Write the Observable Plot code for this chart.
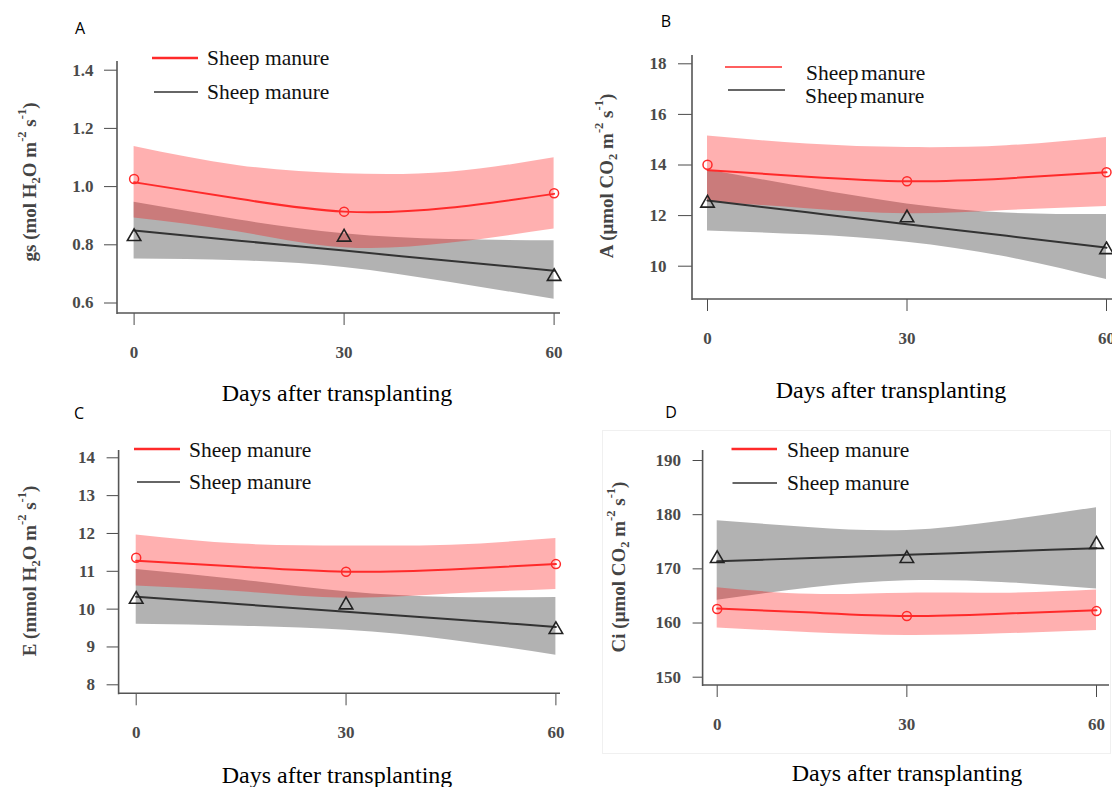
<!DOCTYPE html>
<html><head><meta charset="utf-8">
<script src="https://cdn.jsdelivr.net/npm/d3@7"></script>
<script src="https://cdn.jsdelivr.net/npm/@observablehq/plot@0.6"></script>
<style>
body{margin:0;background:#fff;}
#wrap{position:relative;width:1112px;height:787px;overflow:hidden;background:#fff;font-family:"Liberation Serif","Times New Roman",serif;}
.panel{position:absolute;overflow:hidden;}
.letter{position:absolute;font-family:"Open Sans","Liberation Sans",sans-serif;font-size:16px;color:#000;transform:translate(-50%,-50%);}
.xtitle{position:absolute;font-family:"Liberation Serif",serif;font-size:24px;color:#000;transform:translate(-50%,-50%);white-space:nowrap;}
.faint{position:absolute;border:1px solid #f0f0f0;}
</style></head><body><div id="wrap"></div><script>
// ---------- data ----------
const days = [0, 30, 60];
const bandDays = [0, 15, 30, 45, 60];
const seriesLabels = ["Sheep manure", "Sheep manure"];

// A: gs
const gsRedPts = [1.026, 0.914, 0.977];
const gsGrayPts = [0.828, 0.826, 0.691];
const gsRedFit = [1.015, 0.958, 0.914, 0.927, 0.975];
const gsRedLo = [0.892, 0.844, 0.79, 0.805, 0.854];
const gsRedHi = [1.138, 1.072, 1.044, 1.049, 1.099];
const gsGrayFit = [0.849, 0.814, 0.78, 0.745, 0.711];
const gsGrayLo = [0.751, 0.745, 0.722, 0.671, 0.613];
const gsGrayHi = [0.946, 0.885, 0.838, 0.818, 0.814];
const gsTicks = [0.6, 0.8, 1.0, 1.2, 1.4];

// B: A (photosynthesis)
const aRedPts = [14.01, 13.36, 13.71];
const aGrayPts = [12.49, 11.91, 10.65];
const aRedFit = [13.80, 13.54, 13.36, 13.47, 13.71];
const aRedLo = [12.55, 12.27, 12.07, 12.2, 12.36];
const aRedHi = [15.15, 14.83, 14.69, 14.76, 15.09];
const aGrayFit = [12.6, 12.13, 11.66, 11.2, 10.73];
const aGrayLo = [11.39, 11.24, 10.95, 10.36, 9.47];
const aGrayHi = [13.8, 13.1, 12.46, 12.1, 12.04];
const aTicks = [10, 12, 14, 16, 18];

// C: E
const eRedPts = [11.36, 10.99, 11.19];
const eGrayPts = [10.26, 10.11, 9.46];
const eRedFit = [11.28, 11.12, 10.99, 11.05, 11.19];
const eRedLo = [10.61, 10.46, 10.29, 10.4, 10.52];
const eRedHi = [11.96, 11.72, 11.67, 11.69, 11.87];
const eGrayFit = [10.33, 10.13, 9.93, 9.73, 9.53];
const eGrayLo = [9.6, 9.55, 9.44, 9.18, 8.78];
const eGrayHi = [11.05, 10.77, 10.46, 10.31, 10.31];
const eTicks = [8, 9, 10, 11, 12, 13, 14];

// D: Ci
const ciRedPts = [162.6, 161.3, 162.2];
const ciGrayPts = [171.9, 171.9, 174.5];
const ciRedFit = [162.66, 161.92, 161.3, 161.73, 162.36];
const ciRedLo = [159.1, 158.2, 157.7, 158.0, 158.6];
const ciRedHi = [166.5, 165.3, 165.5, 165.5, 166.1];
const ciGrayFit = [171.4, 172.0, 172.6, 173.2, 173.8];
const ciGrayLo = [164.2, 166.5, 167.8, 167.5, 166.3];
const ciGrayHi = [178.9, 177.6, 177.1, 178.8, 181.3];
const ciTicks = [150, 160, 170, 180, 190];

// ---------- helpers ----------
const pts = (vals) => days.map((d, i) => ({day: d, v: vals[i]}));
const band = (fit, lo, hi) => bandDays.map((d, i) => ({day: d, fit: fit[i], lo: lo[i], hi: hi[i]}));

const RED = "#ff2a2a";
const DARK = "#333333";

function overlay(cfg) {
  return (index, scales, values, dims) => {
    const g = d3.create("svg:g");
    const L = dims.marginLeft, T = dims.marginTop, B = dims.height - dims.marginBottom, R = dims.width - dims.marginRight;
    g.append("line").attr("x1", L).attr("x2", L).attr("y1", T).attr("y2", B + 1).attr("stroke", "#555").attr("stroke-width", 1.6);
    g.append("line").attr("x1", L).attr("x2", R).attr("y1", B).attr("y2", B).attr("stroke", "#555").attr("stroke-width", 1.6);
    // legend
    cfg.legend.forEach((e, i) => {
      g.append("line").attr("x1", e.x1).attr("x2", e.x2).attr("y1", e.y).attr("y2", e.y)
        .attr("stroke", i === 0 ? RED : DARK).attr("stroke-width", e.w);
      g.append("text").attr("x", e.tx).attr("y", e.ty).attr("dominant-baseline", "central")
        .attr("text-anchor", "start").attr("font-weight", "normal")
        .attr("font-family", "Liberation Serif, serif").attr("font-size", cfg.legendSize).attr("fill", "#111")
        .attr("word-spacing", cfg.wordSpacing || 0)
        .text(seriesLabels[i]);
    });
    // y label with sub/superscripts
    const t = g.append("text").attr("transform", `translate(${cfg.ylab.x},${cfg.ylab.y}) rotate(-90)`)
      .attr("text-anchor", "middle").attr("dominant-baseline", "central").attr("font-weight", "bold")
      .attr("font-family", "Liberation Serif, serif").attr("font-size", 19).attr("fill", "#444");
    cfg.ylab.parts.forEach(([s, kind]) => {
      const sp = t.append("tspan").text(s);
      if (kind === "sub") sp.attr("font-size", 12.5).attr("baseline-shift", "sub");
      if (kind === "sup") sp.attr("font-size", 12.5).attr("baseline-shift", "super");
    });
    return g.node();
  };
}

function panel(cfg) {
  const gBand = band(cfg.grayFit, cfg.grayLo, cfg.grayHi);
  const rBand = band(cfg.redFit, cfg.redLo, cfg.redHi);
  return Plot.plot({
    width: cfg.W, height: cfg.H,
    marginLeft: cfg.mL, marginTop: cfg.mT, marginBottom: cfg.mB, marginRight: cfg.mR,
    x: {domain: [0, 60], range: cfg.xr},
    y: {domain: cfg.yd, range: cfg.yr},
    style: {background: "transparent", fontFamily: "Liberation Serif, serif", fontSize: "17px", fontWeight: "bold", color: "#4a4a4a"},
    marks: [
      Plot.areaY(gBand, {x: "day", y1: "lo", y2: "hi", fill: "#000", fillOpacity: 0.3, curve: "natural"}),
      Plot.areaY(rBand, {x: "day", y1: "lo", y2: "hi", fill: "#ff0000", fillOpacity: 0.31, curve: "natural"}),
      Plot.line(gBand, {x: "day", y: "fit", stroke: DARK, strokeWidth: 2, curve: "natural"}),
      Plot.line(rBand, {x: "day", y: "fit", stroke: RED, strokeWidth: 2, curve: "natural"}),
      Plot.dot(pts(cfg.redPts), {x: "day", y: "v", r: 4.5, stroke: RED, fill: "none", strokeWidth: 1.5}),
      Plot.dot(pts(cfg.grayPts), {x: "day", y: "v", symbol: "triangle", r: 5, stroke: "#222", fill: "none", strokeWidth: 1.6}),
      Plot.axisY({ticks: cfg.ticks, tickFormat: cfg.fmt, tickSize: cfg.ytS, tickPadding: cfg.ytP, label: null}),
      Plot.axisX({ticks: days, tickFormat: d3.format("d"), tickSize: 12, tickPadding: 20, label: null}),
      overlay(cfg)
    ]
  });
}

const panels = [
  {left: 0, top: 0, W: 575, H: 400, mL: 117, mT: 61, mB: 87, mR: 15,
   xr: [133.6, 553.6], yd: [0.6, 1.4], yr: [302.5, 69.7], ticks: gsTicks, fmt: d3.format(".1f"), ytS: 13, ytP: 11,
   redPts: gsRedPts, grayPts: gsGrayPts, redFit: gsRedFit, redLo: gsRedLo, redHi: gsRedHi,
   grayFit: gsGrayFit, grayLo: gsGrayLo, grayHi: gsGrayHi, legendSize: 21.5,
   legend: [{x1: 152, x2: 198, y: 58, w: 2.6, tx: 207, ty: 58}, {x1: 154, x2: 198, y: 92, w: 1.5, tx: 207, ty: 92}],
   ylab: {x: 29, y: 182, parts: [["gs (mol H"], ["2", "sub"], ["O m"], ["-2", "sup"], [" s"], ["-1", "sup"], [")"]]},
   letter: "A", lx: 80, ly: 28, tx: 337, ty: 393},
  {left: 560, top: 0, W: 552, H: 400, mL: 132, mT: 55, mB: 101, mR: 0,
   xr: [147, 546], yd: [10, 18], yr: [265.7, 63.3], ticks: aTicks, fmt: d3.format("d"), ytS: 14, ytP: 12,
   redPts: aRedPts, grayPts: aGrayPts, redFit: aRedFit, redLo: aRedLo, redHi: aRedHi,
   grayFit: aGrayFit, grayLo: aGrayLo, grayHi: aGrayHi, legendSize: 21.5, wordSpacing: -3,
   legend: [{x1: 165, x2: 222, y: 67, w: 1.6, tx: 246, ty: 73}, {x1: 168, x2: 225, y: 90, w: 1.4, tx: 245, ty: 96}],
   ylab: {x: 46, y: 176, parts: [["A (μmol CO"], ["2", "sub"], [" m"], ["-2", "sup"], [" s"], ["-1", "sup"], [")"]]},
   letter: "B", lx: 666, ly: 21, tx: 891, ty: 390},
  {left: 0, top: 400, W: 575, H: 387, mL: 118.6, mT: 50, mB: 93.7, mR: 15,
   xr: [135.7, 555.4], yd: [8, 14], yr: [284.3, 57.3], ticks: eTicks, fmt: d3.format("d"), ytS: 12, ytP: 12,
   redPts: eRedPts, grayPts: eGrayPts, redFit: eRedFit, redLo: eRedLo, redHi: eRedHi,
   grayFit: eGrayFit, grayLo: eGrayLo, grayHi: eGrayHi, legendSize: 21.5,
   legend: [{x1: 134, x2: 180, y: 49, w: 2.4, tx: 189, ty: 50}, {x1: 137, x2: 180, y: 82, w: 1.5, tx: 189, ty: 82}],
   ylab: {x: 29, y: 171, parts: [["E (mmol H"], ["2", "sub"], ["O m"], ["-2", "sup"], [" s"], ["-1", "sup"], [")"]]},
   letter: "C", lx: 79, ly: 413, tx: 337, ty: 775},
  {left: 560, top: 400, W: 552, H: 387, mL: 142.6, mT: 50, mB: 102, mR: 3,
   xr: [156.7, 536], yd: [150, 190], yr: [276.7, 60], ticks: ciTicks, fmt: d3.format("d"), ytS: 10, ytP: 12,
   redPts: ciRedPts, grayPts: ciGrayPts, redFit: ciRedFit, redLo: ciRedLo, redHi: ciRedHi,
   grayFit: ciGrayFit, grayLo: ciGrayLo, grayHi: ciGrayHi, legendSize: 21.5,
   legend: [{x1: 171.5, x2: 217, y: 49, w: 2.4, tx: 227, ty: 50}, {x1: 172.5, x2: 217, y: 83, w: 1.5, tx: 227, ty: 83}],
   ylab: {x: 58, y: 167, parts: [["Ci (μmol CO"], ["2", "sub"], [" m"], ["-2", "sup"], [" s"], ["-1", "sup"], [")"]]},
   letter: "D", lx: 671, ly: 412, tx: 907, ty: 773}
];

const wrap = document.getElementById("wrap");
// faint frame around panel D as in the source image
const fr = document.createElement("div");
fr.className = "faint";
Object.assign(fr.style, {left: "602px", top: "430px", width: "507px", height: "322px"});
wrap.appendChild(fr);

panels.forEach(cfg => {
  const div = document.createElement("div");
  div.className = "panel";
  Object.assign(div.style, {left: cfg.left + "px", top: cfg.top + "px", width: cfg.W + "px", height: cfg.H + "px"});
  div.appendChild(panel(cfg));
  wrap.appendChild(div);
  const l = document.createElement("div");
  l.className = "letter"; l.textContent = cfg.letter;
  Object.assign(l.style, {left: cfg.lx + "px", top: cfg.ly + "px"});
  wrap.appendChild(l);
  const t = document.createElement("div");
  t.className = "xtitle"; t.textContent = "Days after transplanting";
  Object.assign(t.style, {left: cfg.tx + "px", top: cfg.ty + "px"});
  wrap.appendChild(t);
});
</script></body></html>
